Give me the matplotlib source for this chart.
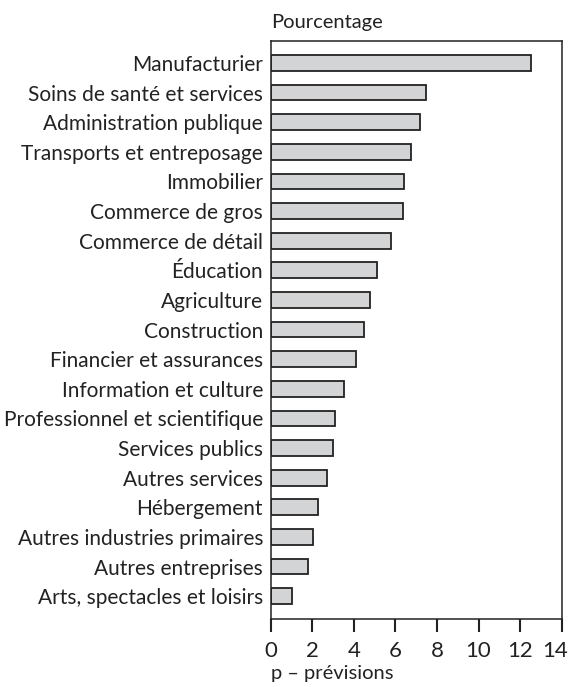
import matplotlib
matplotlib.use("Agg")
import matplotlib.pyplot as plt
import matplotlib.transforms as mtransforms
import numpy as np

categories = [
    "Manufacturier",
    "Soins de santé et services",
    "Administration publique",
    "Transports et entreposage",
    "Immobilier",
    "Commerce de gros",
    "Commerce de détail",
    "Éducation",
    "Agriculture",
    "Construction",
    "Financier et assurances",
    "Information et culture",
    "Professionnel et scientifique",
    "Services publics",
    "Autres services",
    "Hébergement",
    "Autres industries primaires",
    "Autres entreprises",
    "Arts, spectacles et loisirs",
]
values = [12.5, 7.45, 7.18, 6.73, 6.42, 6.35, 5.78, 5.13, 4.76, 4.47,
          4.10, 3.54, 3.08, 3.00, 2.72, 2.26, 2.05, 1.78, 1.02]
xticks = [0, 2, 4, 6, 8, 10, 12, 14]

plt.rcParams['font.family'] = ['Lato', 'DejaVu Sans']

fig = plt.figure(figsize=(5.71, 6.87), dpi=100)
ax = fig.add_axes([0.474, 0.099, 0.5097, 0.8418])

y = np.arange(len(categories))
ax.barh(y, values, height=0.53, color='#d3d4d6', edgecolor='#222222', linewidth=1.3)

ax.set_xlim(0, 14)
ax.set_ylim(len(categories) - 0.23, -0.75)
ax.set_yticks(y)
ax.set_yticklabels(categories, fontsize=15, color='#222222')
ax.tick_params(axis='y', length=0, pad=5.5)
ax.set_xticks(xticks)
ax.set_xticklabels([str(t) for t in xticks], fontsize=16, color='#222222')
ax.tick_params(axis='x', direction='out', length=9.5, width=1.5, color='#222222', pad=6.5)

# nudge the last tick label inside the figure, as in the original
last = ax.get_xticklabels()[-1]
last.set_transform(last.get_transform() +
                   mtransforms.ScaledTranslation(-7 / 100, 0, fig.dpi_scale_trans))

for s in ax.spines.values():
    s.set_color('#222222')
    s.set_linewidth(1.1)

fig.text(271 / 571, 1 - 28 / 687, "Pourcentage", fontsize=14.5, color='#222222',
         ha='left', va='baseline')
fig.text(271 / 571, 1 - 679 / 687, "p – prévisions", fontsize=14.5, color='#222222',
         ha='left', va='baseline')

fig.savefig("out.png", dpi=100)
